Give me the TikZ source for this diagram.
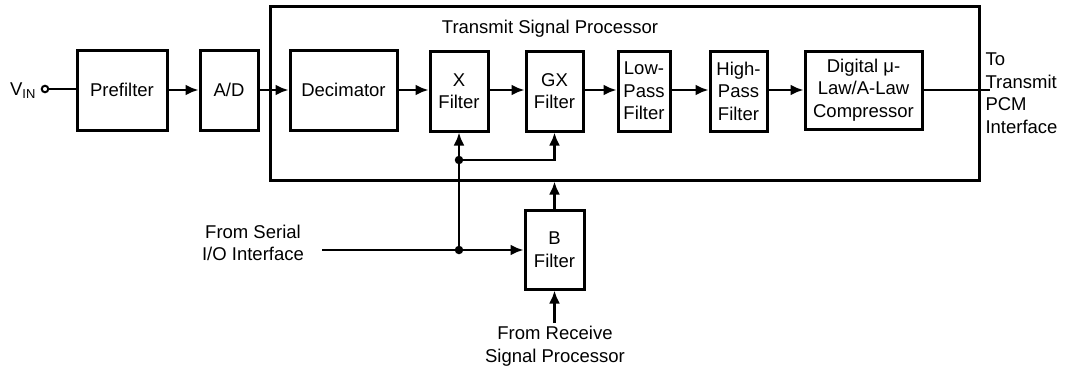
\documentclass[tikz,border=0pt]{standalone}
\usepackage{fontspec}
\setmainfont{Liberation Sans}
\usetikzlibrary{arrows.meta}
\begin{document}
\begin{tikzpicture}[x=1pt,y=-1pt,
  every node/.style={font=\fontsize{18.5}{22.5}\selectfont},
  blk/.style={draw,line width=3pt,align=center,inner sep=0pt},
  wire/.style={line width=2.8pt},
  arr/.style={wire,-{Latex[length=13pt,width=11pt]}},
  dotj/.style={circle,fill,inner sep=0pt,minimum size=8.5pt}]
\useasboundingbox (0,0) rectangle (1067,375);
% outer processor box
\node[blk,minimum width=709pt,minimum height=174pt] (tsp) at (624.5,93) {};
\node (tsptitle) at (550,29) {Transmit Signal Processor};
% blocks
\node[blk,minimum width=90pt,minimum height=80pt] (pre) at (122,90) {Prefilter};
\node[blk,minimum width=58pt,minimum height=80pt] (ad) at (229,90) {A/D};
\node[blk,minimum width=107pt,minimum height=80pt] (dec) at (343.5,90) {Decimator};
\node[blk,minimum width=58pt,minimum height=80pt] (xf) at (459,91) {X\\Filter};
\node[blk,minimum width=57pt,minimum height=80pt] (gx) at (554.5,91) {GX\\Filter};
\node[blk,minimum width=52pt,minimum height=80pt] (lp) at (644,91) {Low-\\Pass\\Filter};
\node[blk,minimum width=57pt,minimum height=80pt] (hp) at (738.5,91) {High-\\Pass\\Filter};
\node[blk,minimum width=117pt,minimum height=78pt] (cmp) at (863.5,90) {Digital μ-\\Law/A-Law\\Compressor};
\node[blk,minimum width=59pt,minimum height=79pt] (bf) at (554.5,249.5) {B\\Filter};
% input
\node (vin) at (23,91) {V\textsubscript{IN}};
\node[circle,draw,line width=2pt,inner sep=0pt,minimum size=6.5pt] (vc) at (45,89) {};
\draw[wire] (vc) -- (pre.west |- vc);
\draw[arr] (pre.east) -- (ad.west);
\draw[arr] (ad.east) -- (dec.west);
\draw[arr] (dec.east) -- (xf.west |- dec.east);
\draw[arr] (xf.east |- dec.east) -- (gx.west |- dec.east);
\draw[arr] (gx.east |- dec.east) -- (lp.west |- dec.east);
\draw[arr] (lp.east |- dec.east) -- (hp.west |- dec.east);
\draw[arr] (hp.east |- dec.east) -- (cmp.west);
\coordinate (out) at (990,90);
\draw[wire] (cmp.east) -- (out);
\node[align=left,anchor=west] (outtxt) at (982,93) {To\\Transmit\\PCM\\Interface};
% feedback network
\node[dotj] (j1) at (459,160) {};
\node[dotj] (j2) at (459,250) {};
\draw[arr] (j1) -- (xf.south);
\draw[arr] (j1.center) -| (gx.south);
\draw[wire] (j2.center) -- (j1.center);
\coordinate (ser) at (322,250);
\draw[arr] (ser) -- (bf.west |- ser);
\node[align=center] (sertxt) at (253,243) {From Serial\\I/O Interface};
\draw[arr] (bf.north) -- (bf.north |- tsp.south);
\coordinate (rcv) at (554.5,323);
\draw[arr] (rcv) -- (bf.south);
\node[align=center] (rcvtxt) at (555,346) {From Receive\\Signal Processor};
\end{tikzpicture}
\end{document}
